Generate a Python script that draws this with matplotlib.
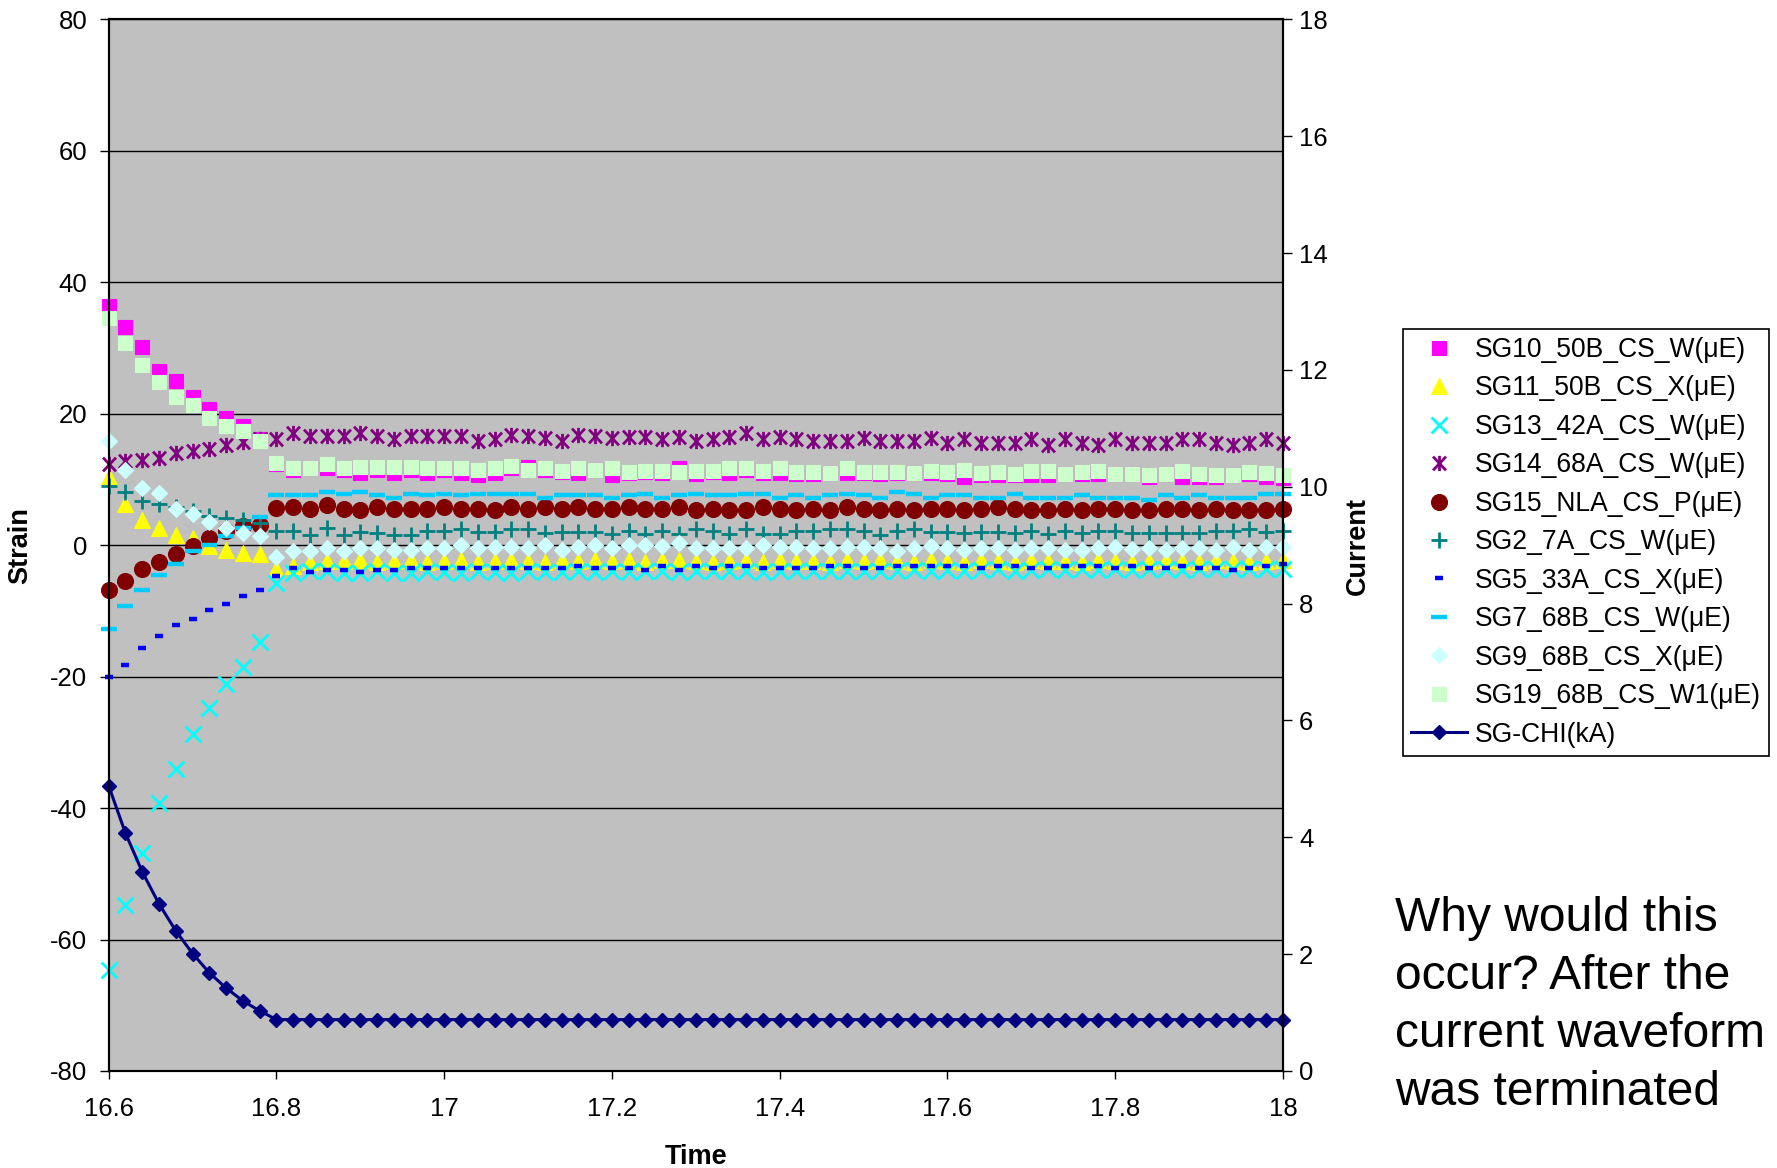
import numpy as np
import matplotlib
matplotlib.use("Agg")
import matplotlib.pyplot as plt
from matplotlib.path import Path

# sample times (s), one reading every 0.02
time = np.round(np.arange(16.6, 18.0001, 0.02), 2)

# strain gauge readings (microstrain)
sg10 = [36.4, 33.2, 30.1, 26.5, 24.9, 22.6, 20.7, 19.4, 18.1, 16.2,
        12.3, 11.5, 11.7, 11.7, 11.4, 11.0, 11.4, 11.0, 11.4, 11.0, 11.4, 11.0, 10.7, 11.0, 11.7, 11.9, 11.4, 11.2, 11.0, 11.4,
        10.7, 11.0, 11.2, 11.0, 11.7, 10.8, 11.2, 11.0, 11.4, 11.0, 11.0, 10.8, 10.8, 11.0, 11.0, 11.0, 10.8, 11.0, 11.0, 11.0,
        10.9, 10.4, 10.6, 10.6, 10.6, 10.6, 10.6, 10.8, 10.8, 10.8, 10.9, 10.9, 10.3, 10.9, 10.4, 10.4, 10.3, 10.7, 10.8, 10.4, 10.2]
sg11 = [10.3, 6.3, 3.8, 2.6, 1.5, 1.1, -0.2, -0.8, -1.2, -1.4,
        -3.6, -3.1, -2.6, -2.4, -2.4, -2.3, -2.5, -2.4, -2.3, -2.5, -2.4, -2.3, -2.5, -2.4, -2.3, -2.4, -2.5, -2.3, -2.4, -2.3,
        -2.4, -2.3, -2.5, -2.3, -2.2, -2.4, -2.5, -2.4, -2.3, -2.5, -2.3, -2.4, -2.4, -2.5, -2.3, -2.4, -2.3, -2.4, -2.5, -2.3,
        -2.4, -2.5, -2.3, -2.4, -2.5, -2.3, -2.4, -2.4, -2.5, -2.3, -2.4, -2.5, -2.4, -2.3, -2.4, -2.5, -2.3, -2.4, -2.5, -2.4, -2.3]
sg13 = [-64.6, -54.7, -46.8, -39.2, -34.0, -28.8, -24.7, -21.1, -18.5, -14.7,
        -5.8, -4.2, -4.0, -4.0, -4.2, -4.2, -4.0, -4.2, -4.2, -4.0, -4.1, -4.2, -4.0, -4.1, -4.2, -4.0, -4.1, -4.1, -4.0, -4.1,
        -4.0, -4.1, -3.9, -4.0, -4.1, -3.9, -4.0, -3.9, -4.0, -4.1, -3.9, -4.0, -3.9, -4.0, -3.9, -3.9, -4.0, -3.9, -3.8, -3.9,
        -3.8, -3.9, -3.8, -3.7, -3.9, -3.8, -3.7, -3.8, -3.7, -3.8, -3.7, -3.8, -3.7, -3.6, -3.8, -3.7, -3.6, -3.7, -3.6, -3.7, -3.6]
sg14 = [12.4, 12.8, 13.0, 13.2, 14.0, 14.3, 14.6, 15.2, 15.7, 16.2,
        16.1, 17.0, 16.6, 16.6, 16.6, 17.0, 16.6, 16.1, 16.6, 16.6, 16.6, 16.6, 15.9, 16.1, 16.8, 16.6, 16.3, 15.9, 16.8, 16.6,
        16.3, 16.4, 16.4, 16.1, 16.4, 15.8, 16.1, 16.4, 17.0, 16.1, 16.4, 16.1, 15.8, 15.8, 15.8, 16.3, 15.8, 15.8, 15.8, 16.3,
        15.6, 16.1, 15.6, 15.6, 15.6, 16.1, 15.3, 16.1, 15.6, 15.3, 16.1, 15.6, 15.6, 15.6, 16.1, 16.1, 15.6, 15.3, 15.6, 16.1, 15.6]
sg15 = [-6.8, -5.5, -3.6, -2.6, -1.3, -0.2, 1.1, 2.1, 2.9, 3.1,
        5.7, 5.8, 5.5, 6.1, 5.5, 5.3, 5.8, 5.5, 5.5, 5.5, 5.8, 5.5, 5.5, 5.3, 5.8, 5.5, 5.8, 5.5, 5.8, 5.5,
        5.5, 5.8, 5.5, 5.5, 5.8, 5.3, 5.5, 5.3, 5.3, 5.8, 5.5, 5.3, 5.5, 5.3, 5.8, 5.5, 5.3, 5.5, 5.3, 5.5,
        5.5, 5.3, 5.5, 5.8, 5.5, 5.3, 5.3, 5.5, 5.3, 5.5, 5.5, 5.3, 5.3, 5.5, 5.5, 5.3, 5.5, 5.3, 5.3, 5.3, 5.5]
sg2 = [9.0, 8.1, 6.7, 6.3, 5.8, 5.2, 4.4, 4.1, 3.9, 3.4,
       2.1, 2.2, 1.6, 2.6, 1.6, 2.0, 1.9, 1.6, 1.6, 2.2, 2.2, 2.4, 2.0, 2.0, 2.4, 2.4, 1.9, 2.0, 2.0, 2.0,
       1.7, 2.2, 1.7, 2.1, 1.7, 2.4, 2.1, 1.7, 2.4, 1.7, 1.7, 2.1, 2.1, 2.4, 2.4, 2.1, 1.5, 2.1, 2.4, 2.0,
       2.0, 1.9, 2.0, 2.0, 1.9, 2.1, 1.7, 2.1, 1.9, 2.1, 2.1, 1.9, 1.9, 1.9, 1.9, 1.9, 2.1, 2.1, 2.5, 2.0, 2.1]
sg5 = [-20.0, -18.3, -15.7, -13.8, -12.2, -11.2, -9.9, -8.9, -7.7, -6.8,
       -4.7, -3.5, -4.1, -3.8, -3.8, -4.1, -3.8, -3.8, -3.5, -3.5, -3.5, -3.5, -3.5, -3.5, -3.5, -3.5, -3.5, -3.5, -3.1, -3.5,
       -3.5, -3.5, -3.8, -3.1, -3.8, -3.1, -3.5, -3.1, -3.1, -3.5, -3.5, -3.5, -3.5, -3.1, -3.1, -3.5, -3.5, -3.1, -3.1, -3.1,
       -3.1, -3.1, -3.5, -3.1, -3.1, -3.5, -3.5, -3.1, -3.1, -3.1, -3.5, -3.1, -3.5, -3.5, -3.1, -3.5, -3.5, -3.8, -3.5, -3.1, -2.8]
sg7 = [-12.8, -9.3, -6.8, -4.6, -2.8, -0.9, 0.0, 1.4, 2.6, 4.3,
       7.6, 7.6, 7.6, 8.1, 7.8, 8.1, 7.6, 7.2, 7.8, 7.6, 7.8, 7.6, 7.8, 7.8, 7.8, 7.8, 7.2, 7.6, 7.6, 7.6,
       7.2, 7.6, 7.8, 7.2, 7.6, 7.8, 7.6, 7.6, 7.8, 7.8, 7.2, 7.6, 7.2, 7.6, 7.8, 7.6, 7.2, 8.1, 7.8, 7.2,
       7.6, 7.6, 7.2, 7.2, 7.8, 7.2, 7.2, 7.2, 7.6, 7.2, 7.2, 7.2, 6.9, 7.6, 7.2, 7.6, 7.2, 7.2, 7.2, 7.8, 7.8]
sg9 = [15.8, 11.4, 8.7, 7.9, 5.5, 4.8, 3.6, 2.6, 1.9, 1.4,
       -1.8, -0.9, -0.9, -0.4, -0.9, -0.4, -0.4, -0.7, -0.8, -0.5, -0.5, 0.0, -0.5, -0.3, -0.3, -0.5, 0.0, -0.8, -0.3, 0.0,
       -0.4, 0.0, 0.0, -0.2, 0.4, -0.5, -0.5, -0.5, -0.5, 0.0, -0.3, -0.3, -0.5, -0.5, -0.3, -0.3, -0.5, -0.9, -0.5, -0.2,
       -0.5, -0.7, -0.5, -0.5, -0.7, -0.5, -0.4, -0.7, -0.7, -0.5, -0.3, -0.6, -0.5, -0.7, -0.5, -0.5, -0.7, -0.3, -0.7, -0.3, -0.3]
sg19 = [34.5, 30.7, 27.4, 24.8, 22.6, 21.3, 19.3, 18.1, 17.4, 15.8,
        12.5, 11.7, 11.7, 12.3, 11.7, 11.9, 11.9, 11.9, 11.9, 11.7, 11.7, 11.7, 11.5, 11.7, 12.1, 11.4, 11.7, 11.3, 11.7, 11.4,
        11.7, 11.2, 11.3, 11.3, 11.2, 11.3, 11.3, 11.7, 11.7, 11.3, 11.7, 11.2, 11.2, 11.0, 11.7, 11.2, 11.2, 11.2, 11.0, 11.3,
        11.2, 11.5, 11.0, 11.2, 10.9, 11.3, 11.3, 10.9, 11.2, 11.3, 10.8, 10.9, 10.7, 10.8, 11.3, 10.9, 10.7, 10.7, 11.2, 11.0, 10.7]

# coil current (kA), first value is the sample just before the window
time_chi = np.round(np.arange(16.58, 18.0001, 0.02), 2)
sg_chi = [5.75, 4.88, 4.07, 3.41, 2.86, 2.40, 2.01, 1.68, 1.42, 1.20, 1.03] + [0.88] * 61

# asterisk marker: X with a vertical bar
star = Path([(0, -1), (0, 1), (-0.85, -0.9), (0.85, 0.9), (-0.85, 0.9), (0.85, -0.9)],
            [Path.MOVETO, Path.LINETO] * 3)

strain_series = [
    ("SG10_50B_CS_W(μE)", sg10, dict(marker="s", ms=10.5, color="#FF00FF")),
    ("SG11_50B_CS_X(μE)", sg11, dict(marker="^", ms=11, color="#FFFF00")),
    ("SG13_42A_CS_W(μE)", sg13, dict(marker="x", ms=11, mew=2.0, color="#00FFFF")),
    ("SG14_68A_CS_W(μE)", sg14, dict(marker=star, ms=11, mew=2.0, color="#800080", mfc="none")),
    ("SG15_NLA_CS_P(μE)", sg15, dict(marker="o", ms=11.5, color="#800000")),
    ("SG2_7A_CS_W(μE)", sg2, dict(marker="+", ms=11, mew=2.0, color="#008080")),
    ("SG5_33A_CS_X(μE)", sg5, dict(marker="_", ms=6, mew=3.2, color="#0000FF")),
    ("SG7_68B_CS_W(μE)", sg7, dict(marker="_", ms=11, mew=3.2, color="#00CCFF")),
    ("SG9_68B_CS_X(μE)", sg9, dict(marker="D", ms=8.3, color="#CCFFFF")),
    ("SG19_68B_CS_W1(μE)", sg19, dict(marker="s", ms=10.5, color="#CCFFCC")),
]

plt.rcParams["font.family"] = ["Liberation Sans", "DejaVu Sans"]
plt.rcParams["axes.unicode_minus"] = False

fig = plt.figure(figsize=(17.77, 11.68), dpi=100)
ax = fig.add_axes([0.06117, 0.08305, 0.6608, 0.9004])
ax.set_facecolor("#C0C0C0")
ax.set_axisbelow(True)

handles = []
for label, vals, st in strain_series:
    st = dict(st)
    col = st.pop("color")
    st.setdefault("mfc", col)
    st.setdefault("mew", 0.8)
    h, = ax.plot(time, vals, linestyle="none", mec=col, label=label, clip_on=False, **st)
    handles.append(h)

ax.set_xlim(16.6, 18.0)
ax.set_ylim(-80, 80)
ax.set_xticks([16.6, 16.8, 17.0, 17.2, 17.4, 17.6, 17.8, 18.0])
ax.set_xticklabels(["16.6", "16.8", "17", "17.2", "17.4", "17.6", "17.8", "18"])
ax.set_yticks(np.arange(-80, 81, 20))
ax.grid(axis="y", color="black", linewidth=1.0)

ax2 = ax.twinx()
ax2.set_ylim(0, 18)
ax2.set_yticks(np.arange(0, 19, 2))
ax2.plot(time_chi, sg_chi, color="#000080", linewidth=2.2)
ax2.plot(time_chi[1:], sg_chi[1:], linestyle="none", marker="D", ms=7,
         mfc="#000080", mec="#000080", clip_on=False)
# legend entry for the current trace: line with diamond
h_chi, = ax2.plot([], [], color="#000080", linewidth=2.2, marker="D", ms=7, label="SG-CHI(kA)")
handles.append(h_chi)

for a in (ax, ax2):
    for sp in a.spines.values():
        sp.set_color("black")
        sp.set_linewidth(1.5)
ax.tick_params(axis="y", direction="out", length=6.5, width=1, pad=9, labelsize=18.5)
ax.tick_params(axis="x", direction="out", length=5.5, width=1, pad=13, labelsize=18.5)
ax2.tick_params(axis="y", direction="out", length=6.5, width=1, pad=5, labelsize=18.5)

fig.text(20 / 1777, 1 - 546 / 1168, "Strain", rotation=90, ha="center", va="center",
         fontsize=19.5, fontweight="bold")
fig.text(1358 / 1777, 1 - 546 / 1168, "Current", rotation=90, ha="center", va="center",
         fontsize=19.5, fontweight="bold")
fig.text(696 / 1777, 1 - 1157 / 1168, "Time", ha="center", va="center",
         fontsize=19.5, fontweight="bold")

leg = fig.legend(handles=handles, loc="upper left", bbox_to_anchor=(1403 / 1777, 1 - 329 / 1168),
                 fontsize=19.1, frameon=True, fancybox=False, edgecolor="black", framealpha=1,
                 borderaxespad=0, borderpad=0.3, labelspacing=0.47, handlelength=2.1,
                 handletextpad=0.3, numpoints=1)
leg.get_frame().set_linewidth(1.2)

fig.text(1395 / 1777, 1 - 896 / 1168,
         "Why would this\noccur? After the\ncurrent waveform\nwas terminated",
         ha="left", va="top", fontsize=34.5, linespacing=1.37)

fig.savefig("out.png", dpi=100, facecolor="white")
